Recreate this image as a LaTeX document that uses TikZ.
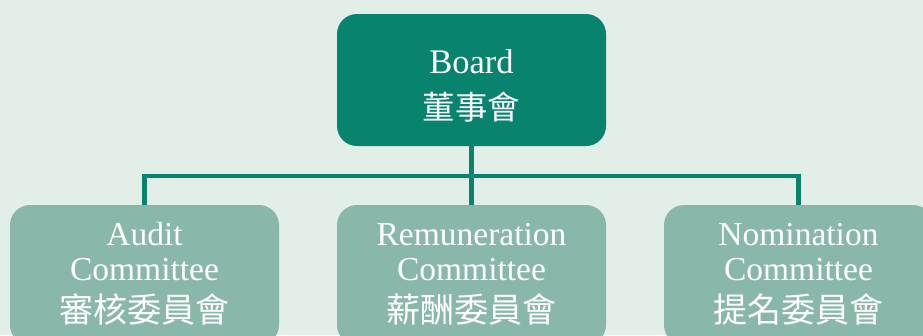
\documentclass[tikz,border=0pt]{standalone}
\usepackage{fontspec}
\setmainfont{Liberation Serif}
\newfontfamily\cjk{Noto Sans CJK TC}
\definecolor{boardteal}{HTML}{08836E}
\definecolor{cmteal}{HTML}{89B8AA}
\definecolor{paper}{HTML}{E2EEE8}

\begin{document}
\begin{tikzpicture}[x=1pt,y=-1pt,
  box/.style={rounded corners=20pt, minimum width=269pt, inner sep=0pt},
  lbl/.style={text=white, align=center, inner sep=0pt},
  link/.style={draw=boardteal, line width=4.5pt}]
\useasboundingbox (0,0) rectangle (923,335);
\clip (0,0) rectangle (923,335);
\fill [paper] (0,0) rectangle (923,335);
\node [box, fill=boardteal, minimum height=132pt] (board) at (471.5,80) {};
\node [lbl, font=\fontsize{34.5}{36}\selectfont] (boardtext) at (471.5,86) {Board\\[10pt]{\cjk\fontsize{32.5}{32.5}\selectfont 董事會}};
\node [box, fill=cmteal, minimum height=140pt] (audit) at (144.5,275) {};
\node [box, fill=cmteal, minimum height=140pt] (remu) at (471.5,275) {};
\node [box, fill=cmteal, minimum height=140pt] (nomi) at (798.5,275) {};
\node [lbl, font=\fontsize{33.5}{35}\selectfont] (audittext) at (144.5,274) {Audit\\Committee\\[7pt]{\cjk\fontsize{34}{34}\selectfont 審核委員會}};
\node [lbl, font=\fontsize{33.5}{35}\selectfont] (remutext) at (471.5,274) {Remuneration\\Committee\\[7pt]{\cjk\fontsize{34}{34}\selectfont 薪酬委員會}};
\node [lbl, font=\fontsize{33.5}{35}\selectfont] (nomitext) at (798.5,274) {Nomination\\Committee\\[7pt]{\cjk\fontsize{34}{34}\selectfont 提名委員會}};
\coordinate (bus) at (471.5,176);
\draw [link] (board.south) -- (remu.north);
\draw [link] (audit.north) -- (audit.north |- bus) -- (nomi.north |- bus) -- (nomi.north);
\end{tikzpicture}
\end{document}
